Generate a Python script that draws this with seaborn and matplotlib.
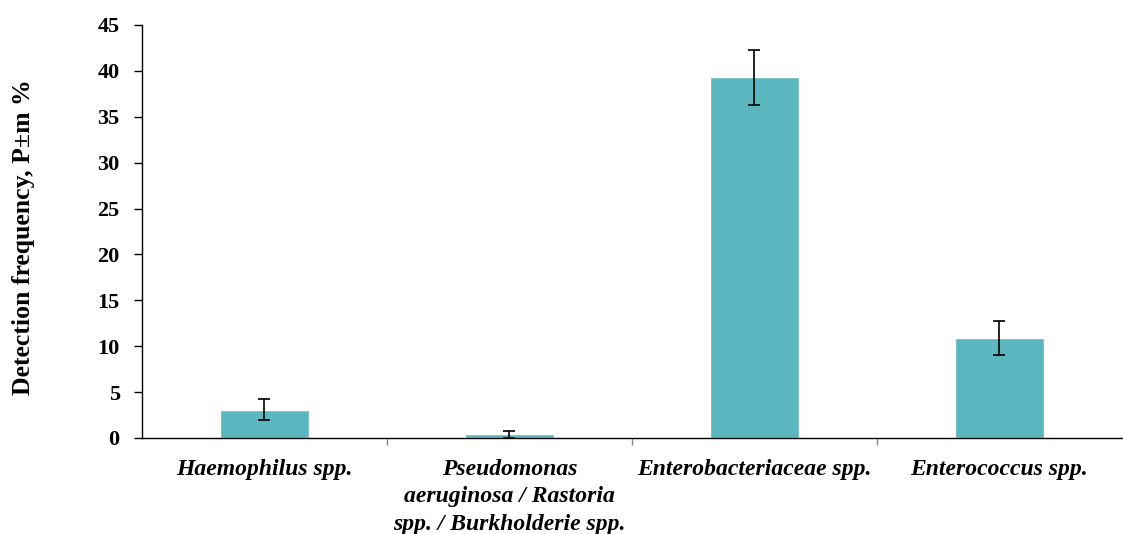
import matplotlib
matplotlib.use("Agg")
import matplotlib.pyplot as plt
import seaborn as sns
import pandas as pd
import numpy as np
from matplotlib.ticker import FixedLocator, NullFormatter

categories = ["Haemophilus spp.",
              "Pseudomonas\naeruginosa / Rastoria\nspp. / Burkholderie spp.",
              "Enterobacteriaceae spp.",
              "Enterococcus spp."]
values = [3.1, 0.4, 39.3, 10.9]
errors = [1.1, 0.4, 3.0, 1.9]
yticks = [0, 5, 10, 15, 20, 25, 30, 35, 40, 45]

sns.set_style("white")
plt.rcParams['font.family'] = ['Liberation Serif', 'DejaVu Serif']
plt.rcParams['text.color'] = 'black'
plt.rcParams['axes.labelcolor'] = 'black'
plt.rcParams['xtick.color'] = 'black'
plt.rcParams['ytick.color'] = 'black'

df = pd.DataFrame({"cat": categories, "val": values})

fig = plt.figure(figsize=(11.23, 5.34), dpi=100)
ax = fig.add_axes([0.1264, 0.1798, 0.8727, 0.7734])

sns.barplot(data=df, x="cat", y="val", color="#5BB6BF", saturation=1,
            width=0.363, errorbar=None, ax=ax)
ax.errorbar(np.arange(len(values)), values, yerr=errors, fmt="none",
            ecolor="black", elinewidth=1.2, capsize=4.5, capthick=1.2)

ax.set_xlim(-0.5, len(values) - 0.5)
ax.set_ylim(0, 45)
ax.set_yticks(yticks)
ax.set_yticklabels([str(t) for t in yticks], fontsize=16, fontweight="bold", color="black")
ax.tick_params(axis="y", direction="out", length=6, width=1, color="black", left=True, pad=10)

ax.set_xticks(range(len(categories)))
ax.set_xticklabels(categories, fontsize=17, fontweight="bold", fontstyle="italic",
                   color="black", linespacing=1.4)
ax.tick_params(axis="x", which="major", length=0, pad=15)
ax.xaxis.set_minor_locator(FixedLocator([0.5, 1.5, 2.5]))
ax.xaxis.set_minor_formatter(NullFormatter())
ax.tick_params(axis="x", which="minor", direction="out", length=5, width=1, color="#888888", bottom=True)

ax.set_xlabel("")
ax.set_ylabel("Detection frequency, P±m %", fontsize=18.5, fontweight="bold", color="black")
ax.yaxis.set_label_coords(-0.109, 0.4855)

for s in ["top", "right"]:
    ax.spines[s].set_visible(False)
for s in ["left", "bottom"]:
    ax.spines[s].set_color("black")
    ax.spines[s].set_linewidth(1)

fig.savefig("out.png", dpi=100)
